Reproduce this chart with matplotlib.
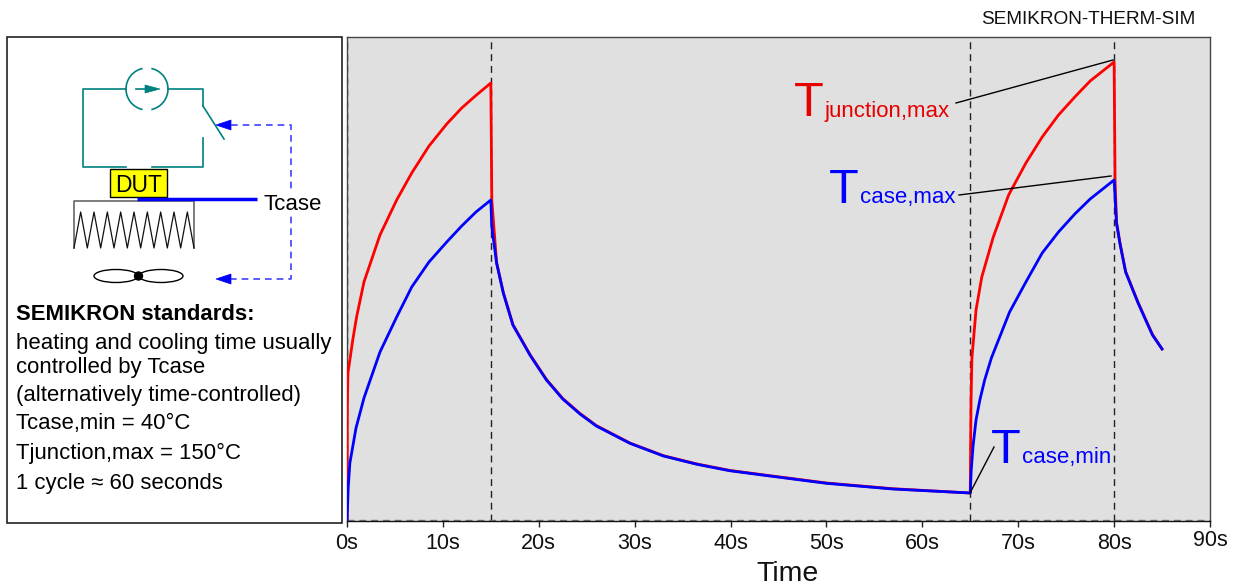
import matplotlib
matplotlib.use("Agg")
from matplotlib import pyplot as plt
from matplotlib.patches import Rectangle, Ellipse, Circle, Arc, Polygon
from matplotlib.transforms import ScaledTranslation

plt.rcParams['font.family'] = ['Liberation Sans', 'DejaVu Sans']

W, H = 1238, 588
AX_L, AX_R, AX_T, AX_B = 347, 1210, 37, 521

# seconds / height of the curve above the bottom of the plot
junction_time = [0, 0.03, 0.1, 0.6, 1.0, 1.77, 3.44, 5.18, 6.75, 8.55, 10.4, 11.96, 13.5, 15.0,
                 15.05, 15.1, 15.6, 16.3, 17.3, 19.08, 20.8, 22.5, 24.3, 26.0, 29.5, 33, 36.5, 39.9,
                 44.1, 50, 56.9, 65.0,
                 65.03, 65.08, 65.17, 65.6, 66.2, 67.4, 69.0, 70.8, 72.5, 74.2, 75.9, 77.5, 80.0,
                 80.05, 80.1, 80.25, 80.6, 81.2, 82.5, 83.2, 84.0, 85.0]
junction_temp = [0, 114, 148, 181, 204, 239, 286, 321, 348, 375, 397, 413, 426, 438,
                 380, 321, 258.5, 228.5, 196.5, 166.5, 141.5, 122.5, 107.5, 95.5, 78, 65.3, 57, 50.6,
                 45.3, 38, 32.3, 28,
                 70, 120, 163, 211, 244, 284, 326, 358, 384, 406, 424, 440, 459,
                 400, 341, 298.5, 278.5, 249.5, 218.5, 203.5, 186.5, 172]

case_time = [0, 0.13, 0.3, 0.94, 1.77, 3.44, 5.18, 6.75, 8.55, 10.4, 11.96, 13.45, 15.0,
             15.1, 15.6, 16.3, 17.3, 19.08, 20.8, 22.5, 24.3, 26.0, 29.5, 33, 36.5, 39.9,
             44.1, 50, 56.9, 65.0,
             65.1, 65.3, 65.6, 66.0, 66.5, 67.2, 69.1, 70.8, 72.5, 74.2, 75.9, 77.5, 80.0,
             80.25, 80.6, 81.2, 82.5, 83.2, 84.0, 85.0]
case_temp = [0, 34, 58, 93, 123, 169, 204, 234, 259, 279, 295, 309, 321,
             294, 258, 228, 196, 166, 141, 122, 107, 95, 77.7, 65, 56.7, 50.3,
             45, 37.7, 32, 28,
             51, 76, 101, 121, 141, 163, 209, 239, 268, 289, 307, 322, 341,
             298, 278, 249, 218, 203, 186, 172]

x_ticks = [0, 10, 20, 30, 40, 50, 60, 70, 80, 90]
x_labels = ['0s', '10s', '20s', '30s', '40s', '50s', '60s', '70s', '80s', '90s']
phase_marks = [0, 15, 65, 80]

info_lines = ['heating and cooling time usually', 'controlled by Tcase',
              '(alternatively time-controlled)', 'Tcase,min = 40°C',
              'Tjunction,max = 150°C', '1 cycle ≈ 60 seconds']
info_y = [344, 368, 396, 424, 453, 483]

TEAL = '#008080'
BLUE = '#0000ff'
RED = '#ff0000'
RED_TEXT = '#e60000'

fig = plt.figure(figsize=(W / 100, H / 100), dpi=100)

ax = fig.add_axes([AX_L / W, 1 - AX_B / H, (AX_R - AX_L) / W, (AX_B - AX_T) / H])
ax.set_facecolor('#e0e0e0')
ax.set_xlim(0, 90)
ax.set_ylim(0, AX_B - AX_T)
ax.set_yticks([])
ax.set_xticks(x_ticks)
ax.set_xticklabels(x_labels, fontsize=15.5)
ax.tick_params(axis='x', length=5.5 * 0.72, width=1, pad=5, color='#222222', labelcolor='#111111')
for s in ax.spines.values():
    s.set_linewidth(1)
    s.set_color('#444444')
ax.spines['bottom'].set_color('#111111')

# the 90s label sits a little higher than the others
lab = ax.get_xticklabels()[-1]
lab.set_transform(lab.get_transform() + ScaledTranslation(0, 2.5 / 72, fig.dpi_scale_trans))

for m in phase_marks:
    ax.axvline(m, color='#222222', lw=1, ls=(0, (5, 3.5)), zorder=2)
ax.axhline(1, color='#777777', lw=1, ls=(0, (5, 3.5)), zorder=2)

ax.plot(junction_time, junction_temp, color=RED, lw=2, zorder=3, solid_joinstyle='round')
ax.plot(case_time, case_temp, color=BLUE, lw=2, zorder=4, solid_joinstyle='round')

# overlay in pixel coordinates for the schematic and labels
ov = fig.add_axes([0, 0, 1, 1], zorder=5)
ov.set_xlim(0, W)
ov.set_ylim(H, 0)
ov.axis('off')

ov.text(787.5, 574, 'Time', fontsize=20.5, ha='center', va='center', color='#111111')
ov.text(981, 20, 'SEMIKRON-THERM-SIM', fontsize=13.7, va='center', color='#111111')
ov.add_patch(Rectangle((6.5, 36.5), 335.5, 486, fc='white', ec='#222222', lw=1.2))

# callout lines
ov.plot([956, 1113], [103, 60], color='black', lw=1)
ov.plot([959, 1111], [195, 176], color='black', lw=1)
ov.plot([970, 994], [493, 447], color='black', lw=1)

ov.text(794, 116, 'T', color=RED_TEXT, fontsize=35, va='baseline')
ov.text(825, 116.5, 'junction,max', color=RED_TEXT, fontsize=16, va='baseline')
ov.text(829, 203, 'T', color=BLUE, fontsize=35, va='baseline')
ov.text(860, 203, 'case,max', color=BLUE, fontsize=16, va='baseline')
ov.text(991, 463, 'T', color=BLUE, fontsize=35, va='baseline')
ov.text(1022, 463, 'case,min', color=BLUE, fontsize=16, va='baseline')

# circuit
ov.plot([126, 83, 83, 126], [89, 89, 167, 167], color=TEAL, lw=1.2)
ov.plot([168, 203, 203], [89, 89, 106], color=TEAL, lw=1.2)
ov.plot([203, 224], [106, 139], color=TEAL, lw=1.2)
ov.plot([203, 203, 152], [138, 167, 167], color=TEAL, lw=1.2)
ov.add_patch(Arc((147, 89), 42, 42, theta1=-78, theta2=78, color=TEAL, lw=1.2))
ov.add_patch(Arc((147, 89), 42, 42, theta1=102, theta2=258, color=TEAL, lw=1.2))
ov.plot([136, 148], [89, 89], color=TEAL, lw=1.2)
ov.add_patch(Polygon([[145, 85], [160, 89], [145, 93]], fc=TEAL, ec=TEAL, lw=0.5))

# DUT and heat sink
ov.add_patch(Rectangle((110, 169), 57, 28, fc='#ffff00', ec='black', lw=1))
ov.text(138.5, 185, 'DUT', fontsize=16.5, ha='center', va='center', color='black')
ov.plot([74, 74, 194, 194], [248, 201, 201, 248], color='#666666', lw=1.2)
zig_x = [74 + 120 * i / 18 for i in range(19)]
zig_y = [248 if i % 2 == 0 else 212 for i in range(19)]
ov.plot(zig_x, zig_y, color='#111111', lw=0.9)
ov.plot([137, 257], [199, 199], color=BLUE, lw=2.5, solid_capstyle='butt')

# control path
ov.plot([231, 291, 291, 231], [125, 125, 279, 279], color='#4040ff', lw=1.2, ls=(0, (4, 3)))
ov.add_patch(Polygon([[216, 125], [231, 120], [231, 130]], fc=BLUE, ec=BLUE, lw=0.5))
ov.add_patch(Polygon([[216, 279], [231, 274], [231, 284]], fc=BLUE, ec=BLUE, lw=0.5))
ov.text(263, 204, 'Tcase', fontsize=16, va='center', color='black',
        bbox=dict(fc='white', ec='none', pad=1))

# fan
ov.add_patch(Ellipse((116, 276), 44, 13, fc='none', ec='black', lw=1))
ov.add_patch(Ellipse((161, 276), 44, 13, fc='none', ec='black', lw=1))
ov.add_patch(Circle((138.5, 276), 4, fc='black', ec='black'))

ov.text(16, 314.5, 'SEMIKRON standards:', fontsize=15.9, fontweight='bold', va='center', color='black')
for line, y in zip(info_lines, info_y):
    ov.text(16, y, line, fontsize=15.9, va='center', color='black')

fig.savefig('out.png', dpi=100)
